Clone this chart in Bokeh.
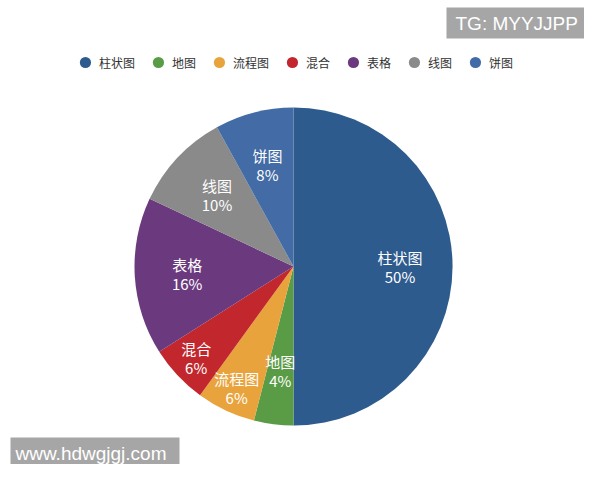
import math
from bokeh.plotting import figure
from bokeh.models import Range1d, Legend, LegendItem, Label, ColumnDataSource
from bokeh.core.properties import value
from bokeh.embed import file_html
from bokeh.resources import INLINE

# ---- data ----
categories = ["柱状图", "地图", "流程图", "混合", "表格", "线图", "饼图"]
shares = [50, 4, 6, 6, 16, 10, 8]
pct_labels = ["50%", "4%", "6%", "6%", "16%", "10%", "8%"]

# ---- style ----
colors = ["#2e5b8e", "#5a9b46", "#e9a33c", "#c1272d", "#6b3a7e", "#8a8a8a", "#436ba5"]
label_r = [0.67, 0.66, 0.84, 0.84, 0.67, 0.66, 0.66]
W, H = 584, 464
cx, cy, R = 293, 198, 159
FONT = "Noto Sans CJK SC"

p = figure(width=W, height=H, output_backend="svg", toolbar_location=None,
           x_range=Range1d(0, W), y_range=Range1d(0, H), min_border=0,
           outline_line_color=None)
p.xaxis.visible = False
p.yaxis.visible = False
p.grid.visible = False
p.background_fill_color = "white"

total = float(sum(shares))
starts, ends, lx, ly = [], [], [], []
cum = 0.0
for v, lr in zip(shares, label_r):
    f0 = cum / total
    f1 = (cum + v) / total
    starts.append(math.pi / 2 - 2 * math.pi * f1)
    ends.append(math.pi / 2 - 2 * math.pi * f0)
    fm = (f0 + f1) / 2
    a = math.pi / 2 - 2 * math.pi * fm
    lx.append(cx + lr * R * math.cos(a))
    ly.append(cy + lr * R * math.sin(a))
    cum += v

src = ColumnDataSource(dict(cat=categories, start=starts, end=ends, color=colors,
                            lx=lx, ly_top=[y + 9 for y in ly], ly_bot=[y - 10 for y in ly],
                            pct=pct_labels))
p.wedge(x=cx, y=cy, radius=R, start_angle="start", end_angle="end",
        fill_color="color", line_color=None, source=src)

p.text(x="lx", y="ly_top", text="cat", source=src, text_color="white",
       text_font=value(FONT), text_font_size="15px", text_align="center",
       text_baseline="middle")
p.text(x="lx", y="ly_bot", text="pct", source=src, text_color="white",
       text_font=value(FONT), text_font_size="15px", text_align="center",
       text_baseline="middle")

# legend with circle markers (dummy points placed outside the visible range)
items = []
for c, col in zip(categories, colors):
    r = p.scatter(x=[-100], y=[-100], marker="circle", size=11, fill_color=col, line_color=None)
    items.append(LegendItem(label=c, renderers=[r]))
legend = Legend(items=items, orientation="horizontal", location="top_center",
                label_text_font=FONT, label_text_font_size="12px",
                label_text_color="#333333", glyph_width=28, glyph_height=28,
                label_standoff=0, spacing=9, padding=0, margin=48,
                border_line_color=None, background_fill_alpha=0)
p.add_layout(legend, "center")

# watermarks
p.add_layout(Label(x=446, y=H - 38, x_units="screen", y_units="screen",
                   text="TG: MYYJJPP", text_color="white",
                   text_font="Liberation Sans", text_font_size="19px",
                   background_fill_color="#a6a6a6", padding=(9, 12, 5, 5)))
p.add_layout(Label(x=10, y=0, x_units="screen", y_units="screen",
                   text="www.hdwgjgj.com", text_color="white",
                   text_font="Liberation Sans", text_font_size="19px",
                   background_fill_color="#a6a6a6", padding=(5, 13, 5, 1)))

open("out.html", "w").write(file_html(p, INLINE))
